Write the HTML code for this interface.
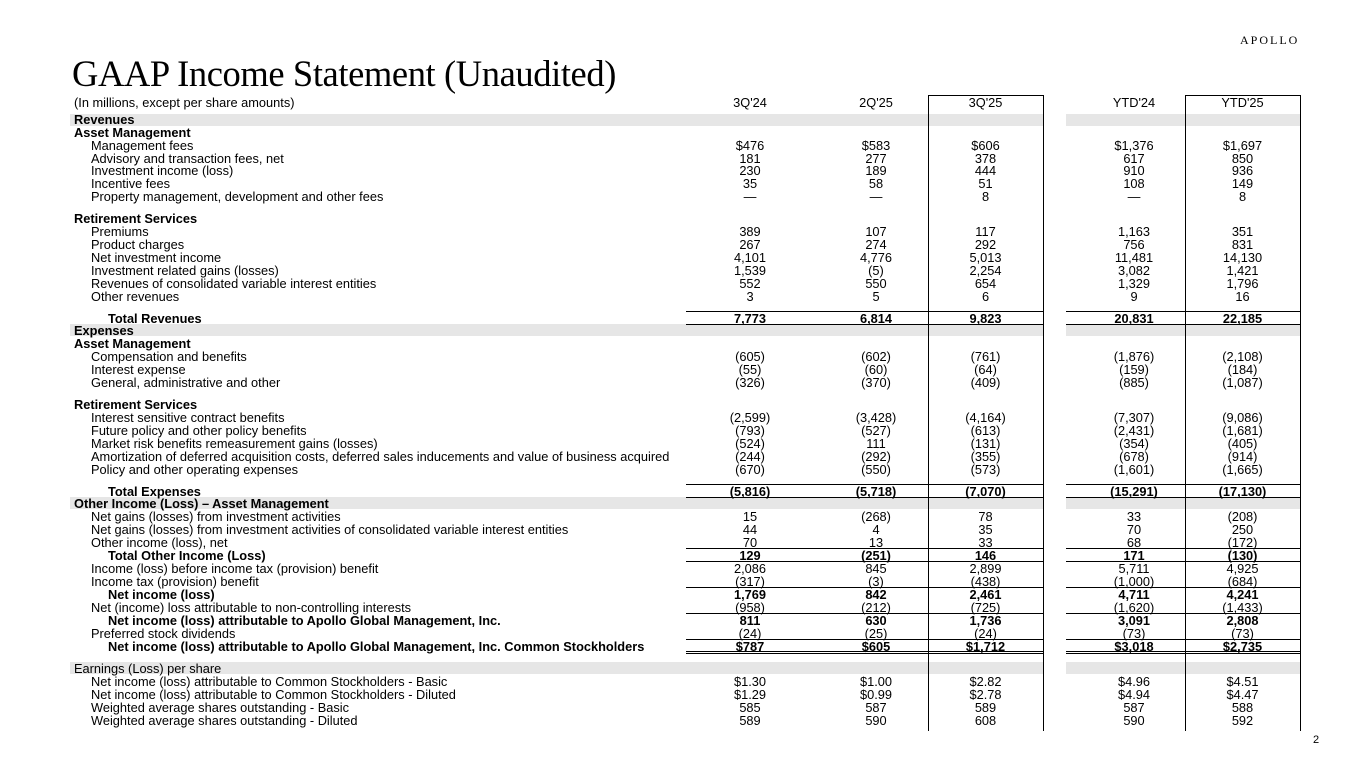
<!DOCTYPE html>
<html><head><meta charset="utf-8"><style>
body{margin:0;width:1365px;height:768px;background:#fff;position:relative;overflow:hidden;font-family:"Liberation Sans",Arial,sans-serif;color:#000}
.t{position:absolute;left:72px;top:52px;font-family:"Liberation Serif",serif;font-size:36.5px;line-height:44px;letter-spacing:-0.4px}
.logo{position:absolute;left:1240px;top:33px;font-family:"Liberation Serif",serif;font-size:12px;letter-spacing:2px}
.pg{position:absolute;left:1313px;top:734px;font-size:11px}
.r{position:absolute;left:0;width:1365px;height:13px;line-height:13px;font-size:12.8px}
.r span{position:absolute;white-space:nowrap}
.l{left:74px}.i{left:91px}.ii{left:108px}
.a{left:690px;width:120px;text-align:center}
.b{left:816px;width:120px;text-align:center}
.c{left:928px;width:115px;text-align:center}
.d{left:1074px;width:120px;text-align:center}
.e{left:1185px;width:115px;text-align:center}
.bd{font-weight:bold}
.band{position:absolute;height:12px;background:#e6e6e6}
.box{position:absolute;border:1px solid #000;border-bottom:none;top:95px;height:635px}
.hl{position:absolute;height:0;border-top:1px solid #000}
</style></head><body>
<div class="logo">APOLLO</div>
<div class="t">GAAP Income Statement (Unaudited)</div>

<div class="band" style="left:70px;width:973px;top:114px"></div><div class="band" style="left:1066px;width:234px;top:114px"></div>
<div class="band" style="left:70px;width:973px;top:324px"></div><div class="band" style="left:1066px;width:234px;top:324px"></div>
<div class="band" style="left:70px;width:973px;top:497px"></div><div class="band" style="left:1066px;width:234px;top:497px"></div>
<div class="band" style="left:70px;width:973px;top:662px"></div><div class="band" style="left:1066px;width:234px;top:662px"></div>

<div class="box" style="left:928px;width:114px"></div>
<div class="box" style="left:1185px;width:114px"></div>

<div class="hl" style="left:686px;width:357px;top:311px"></div><div class="hl" style="left:1066px;width:234px;top:311px"></div>
<div class="hl" style="left:686px;width:357px;top:324px"></div><div class="hl" style="left:1066px;width:234px;top:324px"></div>
<div class="hl" style="left:686px;width:357px;top:484px"></div><div class="hl" style="left:1066px;width:234px;top:484px"></div>
<div class="hl" style="left:686px;width:357px;top:497px"></div><div class="hl" style="left:1066px;width:234px;top:497px"></div>
<div class="hl" style="left:686px;width:357px;top:548px"></div><div class="hl" style="left:1066px;width:234px;top:548px"></div>
<div class="hl" style="left:686px;width:357px;top:561px"></div><div class="hl" style="left:1066px;width:234px;top:561px"></div>
<div class="hl" style="left:686px;width:357px;top:587px"></div><div class="hl" style="left:1066px;width:234px;top:587px"></div>
<div class="hl" style="left:686px;width:357px;top:613px"></div><div class="hl" style="left:1066px;width:234px;top:613px"></div>
<div class="hl" style="left:686px;width:357px;top:639px"></div><div class="hl" style="left:1066px;width:234px;top:639px"></div>
<div class="hl" style="left:686px;width:357px;top:651px"></div><div class="hl" style="left:1066px;width:234px;top:651px"></div>
<div class="hl" style="left:686px;width:357px;top:653px"></div><div class="hl" style="left:1066px;width:234px;top:653px"></div>

<div class="r" style="top:96px"><span class="l">(In millions, except per share amounts)</span><span class="a">3Q'24</span><span class="b">2Q'25</span><span class="c">3Q'25</span><span class="d">YTD'24</span><span class="e">YTD'25</span></div>
<div class="r bd" style="top:113px"><span class="l">Revenues</span></div>
<div class="r bd" style="top:126px"><span class="l">Asset Management</span></div>
<div class="r" style="top:139px"><span class="i">Management fees</span><span class="a">$476</span><span class="b">$583</span><span class="c">$606</span><span class="d">$1,376</span><span class="e">$1,697</span></div>
<div class="r" style="top:152px"><span class="i">Advisory and transaction fees, net</span><span class="a">181</span><span class="b">277</span><span class="c">378</span><span class="d">617</span><span class="e">850</span></div>
<div class="r" style="top:164px"><span class="i">Investment income (loss)</span><span class="a">230</span><span class="b">189</span><span class="c">444</span><span class="d">910</span><span class="e">936</span></div>
<div class="r" style="top:177px"><span class="i">Incentive fees</span><span class="a">35</span><span class="b">58</span><span class="c">51</span><span class="d">108</span><span class="e">149</span></div>
<div class="r" style="top:190px"><span class="i">Property management, development and other fees</span><span class="a">—</span><span class="b">—</span><span class="c">8</span><span class="d">—</span><span class="e">8</span></div>
<div class="r bd" style="top:212px"><span class="l">Retirement Services</span></div>
<div class="r" style="top:225px"><span class="i">Premiums</span><span class="a">389</span><span class="b">107</span><span class="c">117</span><span class="d">1,163</span><span class="e">351</span></div>
<div class="r" style="top:238px"><span class="i">Product charges</span><span class="a">267</span><span class="b">274</span><span class="c">292</span><span class="d">756</span><span class="e">831</span></div>
<div class="r" style="top:251px"><span class="i">Net investment income</span><span class="a">4,101</span><span class="b">4,776</span><span class="c">5,013</span><span class="d">11,481</span><span class="e">14,130</span></div>
<div class="r" style="top:264px"><span class="i">Investment related gains (losses)</span><span class="a">1,539</span><span class="b">(5)</span><span class="c">2,254</span><span class="d">3,082</span><span class="e">1,421</span></div>
<div class="r" style="top:277px"><span class="i">Revenues of consolidated variable interest entities</span><span class="a">552</span><span class="b">550</span><span class="c">654</span><span class="d">1,329</span><span class="e">1,796</span></div>
<div class="r" style="top:290px"><span class="i">Other revenues</span><span class="a">3</span><span class="b">5</span><span class="c">6</span><span class="d">9</span><span class="e">16</span></div>
<div class="r bd" style="top:312px"><span class="ii">Total Revenues</span><span class="a">7,773</span><span class="b">6,814</span><span class="c">9,823</span><span class="d">20,831</span><span class="e">22,185</span></div>
<div class="r bd" style="top:324px"><span class="l">Expenses</span></div>
<div class="r bd" style="top:337px"><span class="l">Asset Management</span></div>
<div class="r" style="top:350px"><span class="i">Compensation and benefits</span><span class="a">(605)</span><span class="b">(602)</span><span class="c">(761)</span><span class="d">(1,876)</span><span class="e">(2,108)</span></div>
<div class="r" style="top:363px"><span class="i">Interest expense</span><span class="a">(55)</span><span class="b">(60)</span><span class="c">(64)</span><span class="d">(159)</span><span class="e">(184)</span></div>
<div class="r" style="top:376px"><span class="i">General, administrative and other</span><span class="a">(326)</span><span class="b">(370)</span><span class="c">(409)</span><span class="d">(885)</span><span class="e">(1,087)</span></div>
<div class="r bd" style="top:398px"><span class="l">Retirement Services</span></div>
<div class="r" style="top:411px"><span class="i">Interest sensitive contract benefits</span><span class="a">(2,599)</span><span class="b">(3,428)</span><span class="c">(4,164)</span><span class="d">(7,307)</span><span class="e">(9,086)</span></div>
<div class="r" style="top:424px"><span class="i">Future policy and other policy benefits</span><span class="a">(793)</span><span class="b">(527)</span><span class="c">(613)</span><span class="d">(2,431)</span><span class="e">(1,681)</span></div>
<div class="r" style="top:437px"><span class="i">Market risk benefits remeasurement gains (losses)</span><span class="a">(524)</span><span class="b">111</span><span class="c">(131)</span><span class="d">(354)</span><span class="e">(405)</span></div>
<div class="r" style="top:450px"><span class="i">Amortization of deferred acquisition costs, deferred sales inducements and value of business acquired</span><span class="a">(244)</span><span class="b">(292)</span><span class="c">(355)</span><span class="d">(678)</span><span class="e">(914)</span></div>
<div class="r" style="top:463px"><span class="i">Policy and other operating expenses</span><span class="a">(670)</span><span class="b">(550)</span><span class="c">(573)</span><span class="d">(1,601)</span><span class="e">(1,665)</span></div>
<div class="r bd" style="top:485px"><span class="ii">Total Expenses</span><span class="a">(5,816)</span><span class="b">(5,718)</span><span class="c">(7,070)</span><span class="d">(15,291)</span><span class="e">(17,130)</span></div>
<div class="r bd" style="top:497px"><span class="l">Other Income (Loss) – Asset Management</span></div>
<div class="r" style="top:510px"><span class="i">Net gains (losses) from investment activities</span><span class="a">15</span><span class="b">(268)</span><span class="c">78</span><span class="d">33</span><span class="e">(208)</span></div>
<div class="r" style="top:523px"><span class="i">Net gains (losses) from investment activities of consolidated variable interest entities</span><span class="a">44</span><span class="b">4</span><span class="c">35</span><span class="d">70</span><span class="e">250</span></div>
<div class="r" style="top:536px"><span class="i">Other income (loss), net</span><span class="a">70</span><span class="b">13</span><span class="c">33</span><span class="d">68</span><span class="e">(172)</span></div>
<div class="r bd" style="top:549px"><span class="ii">Total Other Income (Loss)</span><span class="a">129</span><span class="b">(251)</span><span class="c">146</span><span class="d">171</span><span class="e">(130)</span></div>
<div class="r" style="top:562px"><span class="i">Income (loss) before income tax (provision) benefit</span><span class="a">2,086</span><span class="b">845</span><span class="c">2,899</span><span class="d">5,711</span><span class="e">4,925</span></div>
<div class="r" style="top:575px"><span class="i">Income tax (provision) benefit</span><span class="a">(317)</span><span class="b">(3)</span><span class="c">(438)</span><span class="d">(1,000)</span><span class="e">(684)</span></div>
<div class="r bd" style="top:588px"><span class="ii">Net income (loss)</span><span class="a">1,769</span><span class="b">842</span><span class="c">2,461</span><span class="d">4,711</span><span class="e">4,241</span></div>
<div class="r" style="top:601px"><span class="i">Net (income) loss attributable to non-controlling interests</span><span class="a">(958)</span><span class="b">(212)</span><span class="c">(725)</span><span class="d">(1,620)</span><span class="e">(1,433)</span></div>
<div class="r bd" style="top:614px"><span class="ii">Net income (loss) attributable to Apollo Global Management, Inc.</span><span class="a">811</span><span class="b">630</span><span class="c">1,736</span><span class="d">3,091</span><span class="e">2,808</span></div>
<div class="r" style="top:627px"><span class="i">Preferred stock dividends</span><span class="a">(24)</span><span class="b">(25)</span><span class="c">(24)</span><span class="d">(73)</span><span class="e">(73)</span></div>
<div class="r bd" style="top:640px"><span class="ii">Net income (loss) attributable to Apollo Global Management, Inc. Common Stockholders</span><span class="a">$787</span><span class="b">$605</span><span class="c">$1,712</span><span class="d">$3,018</span><span class="e">$2,735</span></div>
<div class="r" style="top:662px"><span class="l">Earnings (Loss) per share</span></div>
<div class="r" style="top:675px"><span class="i">Net income (loss) attributable to Common Stockholders - Basic</span><span class="a">$1.30</span><span class="b">$1.00</span><span class="c">$2.82</span><span class="d">$4.96</span><span class="e">$4.51</span></div>
<div class="r" style="top:688px"><span class="i">Net income (loss) attributable to Common Stockholders - Diluted</span><span class="a">$1.29</span><span class="b">$0.99</span><span class="c">$2.78</span><span class="d">$4.94</span><span class="e">$4.47</span></div>
<div class="r" style="top:701px"><span class="i">Weighted average shares outstanding - Basic</span><span class="a">585</span><span class="b">587</span><span class="c">589</span><span class="d">587</span><span class="e">588</span></div>
<div class="r" style="top:714px"><span class="i">Weighted average shares outstanding - Diluted</span><span class="a">589</span><span class="b">590</span><span class="c">608</span><span class="d">590</span><span class="e">592</span></div>
<div class="pg">2</div>
</body></html>
